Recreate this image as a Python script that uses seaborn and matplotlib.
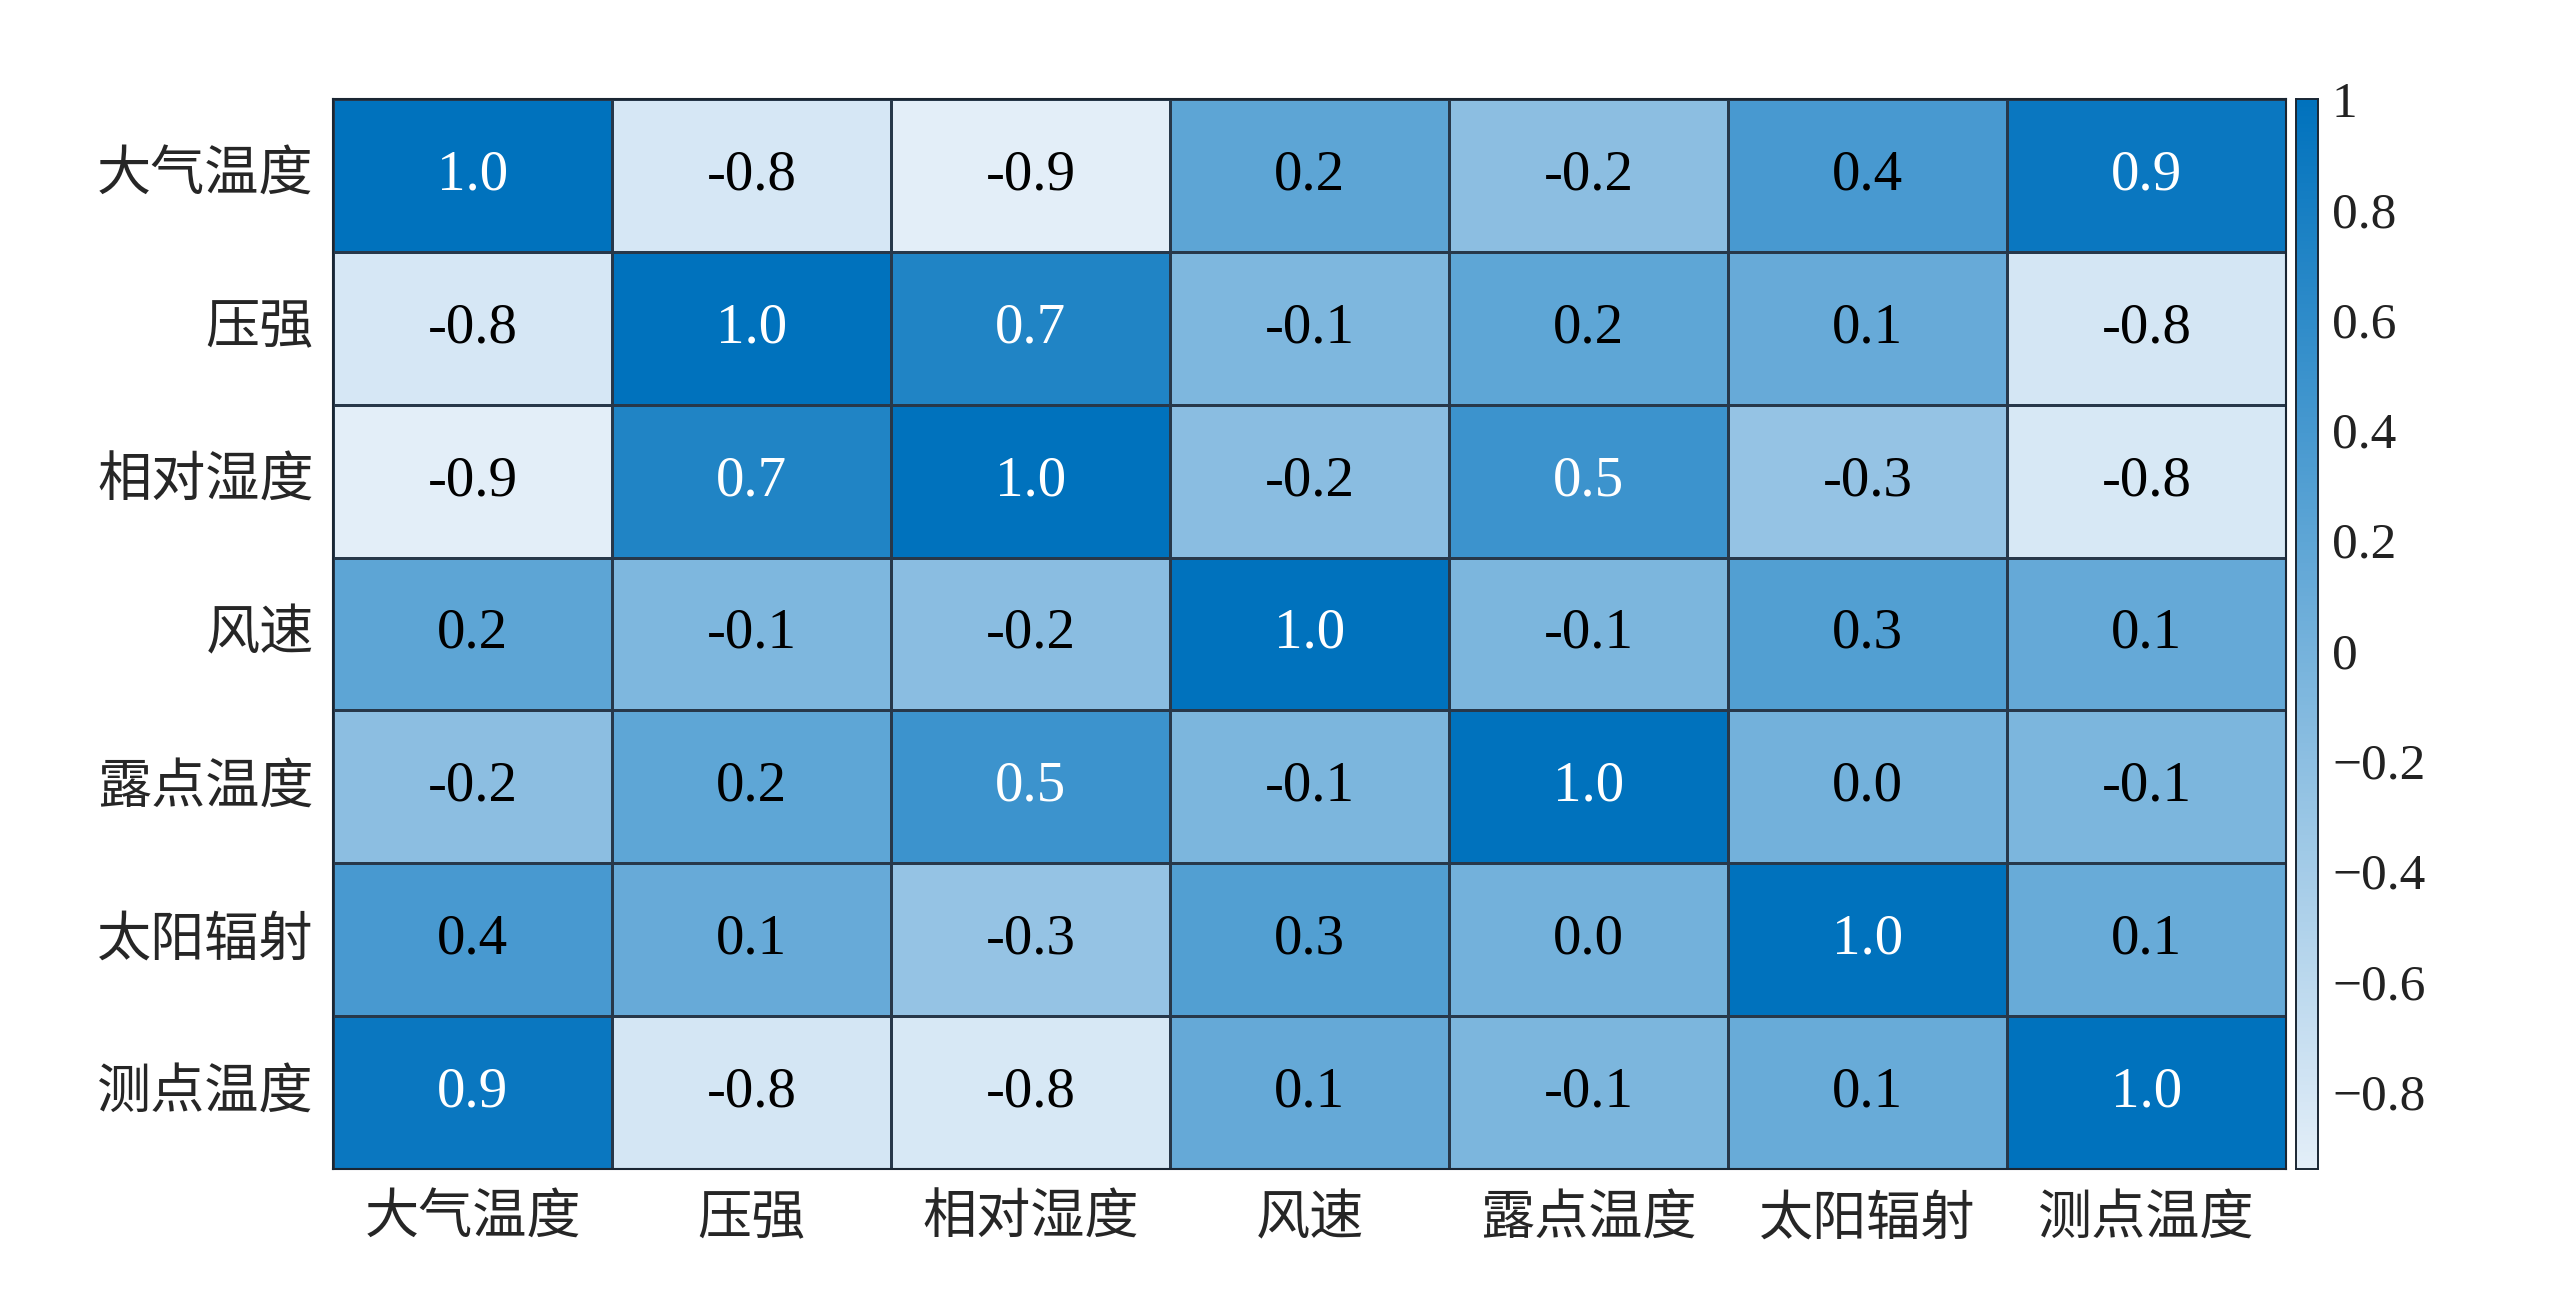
import numpy as np
import pandas as pd
import seaborn as sns
import matplotlib
matplotlib.use("Agg")
import matplotlib.pyplot as plt
from matplotlib.colors import LinearSegmentedColormap

# variable names (rows and columns are the same)
labels = ["大气温度", "压强", "相对湿度", "风速", "露点温度", "太阳辐射", "测点温度"]

# correlation matrix
row_dqwd = [1.00, -0.82, -0.94, 0.21, -0.19, 0.38, 0.91]
row_yq   = [-0.82, 1.00, 0.72, -0.08, 0.19, 0.12, -0.81]
row_xdsd = [-0.94, 0.72, 1.00, -0.18, 0.49, -0.27, -0.84]
row_fs   = [0.21, -0.08, -0.18, 1.00, -0.06, 0.30, 0.13]
row_ldwd = [-0.19, 0.19, 0.49, -0.06, 1.00, 0.02, -0.06]
row_tyfs = [0.38, 0.12, -0.27, 0.30, 0.02, 1.00, 0.11]
row_cdwd = [0.91, -0.81, -0.84, 0.13, -0.06, 0.11, 1.00]

cbar_ticks = [-0.8, -0.6, -0.4, -0.2, 0.0, 0.2, 0.4, 0.6, 0.8, 1.0]
cbar_labels = ["\u22120.8", "\u22120.6", "\u22120.4", "\u22120.2", "0",
               "0.2", "0.4", "0.6", "0.8", "1"]

corr = pd.DataFrame([row_dqwd, row_yq, row_xdsd, row_fs, row_ldwd, row_tyfs, row_cdwd],
                    index=labels, columns=labels)

sns.set_style("white")
plt.rcParams["font.family"] = ["Noto Sans CJK SC", "DejaVu Sans"]

# light blue -> matlab blue
cmap = LinearSegmentedColormap.from_list("corr_blues", ["#e3eef8", "#0072bd"])

fig = plt.figure(figsize=(25.6, 13.14), dpi=100)
ax = fig.add_axes([0.1301, 0.1104, 0.7629, 0.8143])
cax = fig.add_axes([0.8969, 0.1104, 0.0086, 0.8143])

sns.heatmap(corr, ax=ax, cbar_ax=cax, cmap=cmap, vmin=corr.values.min(), vmax=1.0,
            annot=True, fmt=".1f", linewidths=1, linecolor="#27384a",
            annot_kws={"fontsize": 41, "family": "Liberation Serif"})

# text colour: white on the dark cells only
for t, v in zip(ax.texts, corr.values.flatten()):
    t.set_color("white" if v > 0.45 else "black")

ax.set_xticklabels(labels, fontsize=39, rotation=0, family=["Noto Sans CJK SC"])
ax.set_yticklabels(labels, fontsize=39, rotation=0, family=["Noto Sans CJK SC"])
ax.tick_params(axis="x", length=0, pad=16)
ax.tick_params(axis="y", length=0, pad=14)
ax.set_xlabel("")
ax.set_ylabel("")
for s in ax.spines.values():
    s.set_visible(True)
    s.set_color("#1a2633")
    s.set_linewidth(1.5)

# colorbar
cax.set_yticks(cbar_ticks)
cax.set_yticklabels(cbar_labels, family="Liberation Serif", fontsize=37)
cax.tick_params(axis="y", direction="in", length=10, width=1, pad=10, colors="#222222")
for s in cax.spines.values():
    s.set_visible(True)
    s.set_color("#1a2633")
    s.set_linewidth(1.2)

fig.savefig("out.png", dpi=100, facecolor="white")
